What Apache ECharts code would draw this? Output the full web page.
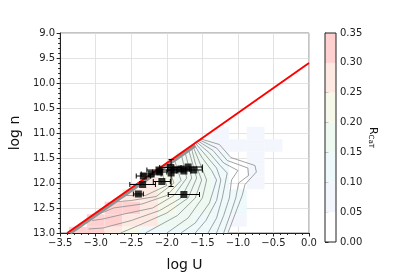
<!DOCTYPE html>
<html><head><meta charset="utf-8">
<script src="https://cdn.jsdelivr.net/npm/echarts@6/dist/echarts.min.js"></script>
<style>html,body{margin:0;padding:0;background:#fff}#c{width:415px;height:277px}</style>
</head><body><div id="c"></div>
<script>
// ---- data ----
const uCenters = [-3.5,-3.25,-3.0,-2.75,-2.5,-2.25,-2.0,-1.75,-1.5,-1.25,-1.0,-0.75,-0.5];
const nCenters = [11.0,11.25,11.5,11.75,12.0,12.25,12.5,12.75,13.0];
const rCaT = [
  [0,0,0,0,0,0,0,0,0,0.07,0,0.07,0],
  [0,0,0,0,0,0,0,0,0.12,0.07,0.07,0.07,0.07],
  [0,0,0,0,0,0,0,0.17,0.17,0.12,0,0.07,0],
  [0,0,0,0,0,0,0.22,0.17,0.17,0.12,0,0.07,0],
  [0,0,0,0,0,0.27,0.22,0.17,0.17,0.12,0,0.07,0],
  [0,0,0,0,0.27,0.27,0.22,0.17,0.17,0.12,0.12,0,0],
  [0,0,0,0.32,0.32,0.27,0.22,0.17,0.17,0.12,0.12,0,0],
  [0,0,0.32,0.32,0.27,0.27,0.17,0.17,0.12,0.12,0.07,0,0],
  [0,0.32,0.32,0.27,0.22,0.12,0.12,0.12,0.12,0.12,0,0,0]
];
const levels = [0,0.05,0.10,0.15,0.20,0.25,0.30,0.35];
const levelColors = ['#ffffff','#f3f6fd','#eef9fb','#edf9f1','#f6f9e9','#fde9e2','#ffd0d0'];
const limitU = [-3.4, 0.0];
const limitN = [13.0, 9.6];
const bandU = [-3.36, -1.6];
const bandN = [13.0, 11.25];
const obsU    = [-2.40,-2.34,-2.33,-2.22,-2.11,-2.07,-1.95,-1.94,-1.89,-1.80,-1.76,-1.70,-1.62,-1.76,-2.10];
const obsN    = [12.22,12.03,11.86,11.82,11.74,11.97,11.69,11.80,11.74,11.72,11.76,11.68,11.74,12.23,11.78];
const obsUerr = [0.07,0.18,0.10,0.14,0.17,0.12,0.15,0.0,0.10,0.12,0.10,0.20,0.12,0.22,0.10];
const obsNerr = [0,0,0,0,0,0,0,0.27,0,0,0,0,0,0,0];
const contours = [
  [[-1.52,11.12],[-1.26,11.23],[-1.1,11.49],[-0.76,11.65],[-0.74,11.78],[-0.9,12.03],[-0.94,12.25],[-1.01,12.51],[-1.14,13.0]],
  [[-1.54,11.14],[-1.3,11.3],[-1.15,11.55],[-0.86,11.7],[-0.85,11.85],[-0.99,12.0],[-1.03,12.3],[-1.1,12.6],[-1.2,13.0]],
  [[-1.56,11.16],[-1.35,11.35],[-1.2,11.6],[-1.0,11.75],[-1.09,11.94],[-1.12,12.3],[-1.2,12.65],[-1.3,13.0]],
  [[-1.58,11.18],[-1.4,11.4],[-1.25,11.65],[-1.15,11.8],[-1.17,11.94],[-1.22,12.3],[-1.3,12.7],[-1.42,13.0]],
  [[-1.6,11.2],[-1.45,11.45],[-1.3,11.7],[-1.24,11.94],[-1.3,12.35],[-1.45,12.75],[-1.6,13.0]],
  [[-1.62,11.22],[-1.5,11.5],[-1.37,11.75],[-1.3,11.94],[-1.4,12.4],[-1.6,12.8],[-1.8,13.0]],
  [[-1.64,11.24],[-1.55,11.55],[-1.44,11.94],[-1.5,12.3],[-1.7,12.7],[-2.0,13.0]],
  [[-1.66,11.26],[-1.6,11.6],[-1.51,11.94],[-1.6,12.3],[-1.85,12.65],[-2.3,13.0]],
  [[-1.7,11.3],[-1.58,11.9],[-1.7,12.3],[-2.0,12.6],[-2.4,12.85],[-2.65,13.0]],
  [[-1.75,11.35],[-1.65,11.9],[-1.8,12.3],[-2.1,12.55],[-2.5,12.75],[-2.9,12.9],[-3.1,12.92]],
  [[-1.8,11.4],[-1.72,11.9],[-1.9,12.25],[-2.2,12.5],[-2.6,12.62],[-2.9,12.72],[-3.05,12.75]],
  [[-1.9,11.5],[-1.8,11.95],[-2.0,12.25],[-2.35,12.42],[-2.75,12.5],[-2.95,12.62]],
  [[-2.0,11.6],[-1.9,12.0],[-2.15,12.27],[-2.5,12.35],[-2.75,12.38],[-2.85,12.5]],
  [[-2.1,11.7],[-2.0,12.05],[-2.3,12.25],[-2.6,12.25],[-2.75,12.38]]
];
// ---- build ----
function colorFor(v){
  for (let i=levels.length-2;i>=0;i--) if (v>=levels[i]) return levelColors[i];
  return levelColors[0];
}
const cells=[];
nCenters.forEach((n,i)=>uCenters.forEach((u,j)=>{ if(rCaT[i][j]>0) cells.push([u,n,rCaT[i][j]]); }));
const cbData = levels.slice(0,-1).map((l,i)=>[l,levels[i+1],i]);
const errData = obsU.map((u,i)=>[u,obsN[i],obsUerr[i],obsNerr[i]]);
const fmtMinus = v => v.toFixed(1).replace('-','\u2212');
const tickFont = {fontFamily:'DejaVu Sans',fontSize:10,color:'#222'};
const series = [
  {type:'custom',xAxisIndex:0,yAxisIndex:0,clip:true,silent:true,z:1,data:cells,
   renderItem:(params,api)=>{
     const u=api.value(0),n=api.value(1),v=api.value(2);
     const p0=api.coord([u-0.125,n-0.125]),p1=api.coord([u+0.125,n+0.125]);
     const shape=echarts.graphic.clipRectByRect({x:p0[0],y:p0[1],width:p1[0]-p0[0],height:p1[1]-p0[1]},
       {x:params.coordSys.x,y:params.coordSys.y,width:params.coordSys.width,height:params.coordSys.height});
     return shape?{type:'rect',shape:shape,style:{fill:colorFor(v)}}:null;
   }}
];
contours.forEach(c=>series.push({type:'line',xAxisIndex:0,yAxisIndex:0,data:c,showSymbol:false,symbol:'none',silent:true,z:2,
  lineStyle:{color:'#8c8c8c',width:0.8}}));
series.push({type:'line',data:bandU.map((u,i)=>[u,bandN[i]]),symbol:'none',silent:true,z:3,lineStyle:{color:'#929292',width:3.5}});
series.push({type:'line',data:limitU.map((u,i)=>[u,limitN[i]]),symbol:'none',silent:true,z:4,lineStyle:{color:'#ff0000',width:2}});
series.push({type:'custom',z:5,silent:true,data:errData,renderItem:(params,api)=>{
  const u=api.value(0),n=api.value(1),du=api.value(2),dn=api.value(3);
  const ch=[];const st={stroke:'#000',lineWidth:1};
  if(du>0){const a=api.coord([u-du,n]),b=api.coord([u+du,n]);
    ch.push({type:'line',shape:{x1:a[0],y1:a[1],x2:b[0],y2:b[1]},style:st});
    ch.push({type:'line',shape:{x1:a[0],y1:a[1]-2.5,x2:a[0],y2:a[1]+2.5},style:st});
    ch.push({type:'line',shape:{x1:b[0],y1:b[1]-2.5,x2:b[0],y2:b[1]+2.5},style:st});}
  if(dn>0){const a=api.coord([u,n-dn]),b=api.coord([u,n+dn]);
    ch.push({type:'line',shape:{x1:a[0],y1:a[1],x2:b[0],y2:b[1]},style:st});
    ch.push({type:'line',shape:{x1:a[0]-2.5,y1:a[1],x2:a[0]+2.5,y2:a[1]},style:st});
    ch.push({type:'line',shape:{x1:b[0]-2.5,y1:b[1],x2:b[0]+2.5,y2:b[1]},style:st});}
  return {type:'group',children:ch};
}});
series.push({type:'scatter',data:obsU.map((u,i)=>[u,obsN[i]]),symbol:'rect',symbolSize:7,z:6,silent:true,
  itemStyle:{color:'#000'}});
series.push({type:'custom',xAxisIndex:1,yAxisIndex:1,silent:true,data:cbData,renderItem:(params,api)=>{
  const a=api.coord([0,api.value(0)]),b=api.coord([1,api.value(1)]);
  return {type:'rect',shape:{x:a[0],y:b[1],width:b[0]-a[0],height:a[1]-b[1]},style:{fill:levelColors[api.value(2)]}};
}});
const chart = echarts.init(document.getElementById('c'),null,{renderer:'canvas'});
chart.setOption({
  animation:false,
  grid:[{left:52,right:106,top:33,bottom:35,show:true,borderColor:'#888',borderWidth:1},
        {left:325,width:11,top:33,bottom:35,show:true,borderColor:'#222',borderWidth:1,z:10}],
  xAxis:[{type:'value',gridIndex:0,min:-3.5,max:0,interval:0.5,
     name:'log U',nameLocation:'middle',nameGap:25,nameTextStyle:{fontFamily:'DejaVu Sans',fontSize:14,color:'#111'},
     axisLine:{onZero:false,lineStyle:{color:'#222'}},axisTick:{length:3.5,lineStyle:{color:'#222'}},
     minorTick:{show:true,splitNumber:5,length:2,lineStyle:{color:'#222'}},
     axisLabel:Object.assign({formatter:fmtMinus,margin:5},tickFont),
     splitLine:{show:true,lineStyle:{color:'#dcdcdc',width:0.8}}},
    {type:'value',gridIndex:1,min:0,max:1,show:false}],
  yAxis:[{type:'value',gridIndex:0,min:9,max:13,interval:0.5,inverse:true,
     name:'log n',nameLocation:'middle',nameGap:31,nameTextStyle:{fontFamily:'DejaVu Sans',fontSize:14,color:'#111'},
     axisLine:{onZero:false,lineStyle:{color:'#222'}},axisTick:{length:3.5,lineStyle:{color:'#222'}},
     minorTick:{show:true,splitNumber:5,length:2,lineStyle:{color:'#222'}},
     axisLabel:Object.assign({formatter:v=>v.toFixed(1),margin:5},tickFont),
     splitLine:{show:true,lineStyle:{color:'#dcdcdc',width:0.8}}},
    {type:'value',gridIndex:1,min:0,max:0.35,interval:0.05,position:'right',
     name:'{r|R}{s|CaT}',nameLocation:'middle',nameGap:31,nameRotate:-90,
     nameTextStyle:{rich:{r:{fontFamily:'DejaVu Sans',fontSize:11,color:'#111'},s:{fontFamily:'DejaVu Sans',fontSize:7,color:'#111',verticalAlign:'bottom',padding:[4,0,0,0]}}},
     axisLine:{show:true,lineStyle:{color:'#222'}},axisTick:{show:true,length:3.5,lineStyle:{color:'#222'}},
     axisLabel:Object.assign({formatter:v=>v.toFixed(2),margin:4},tickFont),splitLine:{show:false}}],
  series:series
});
</script></body></html>
